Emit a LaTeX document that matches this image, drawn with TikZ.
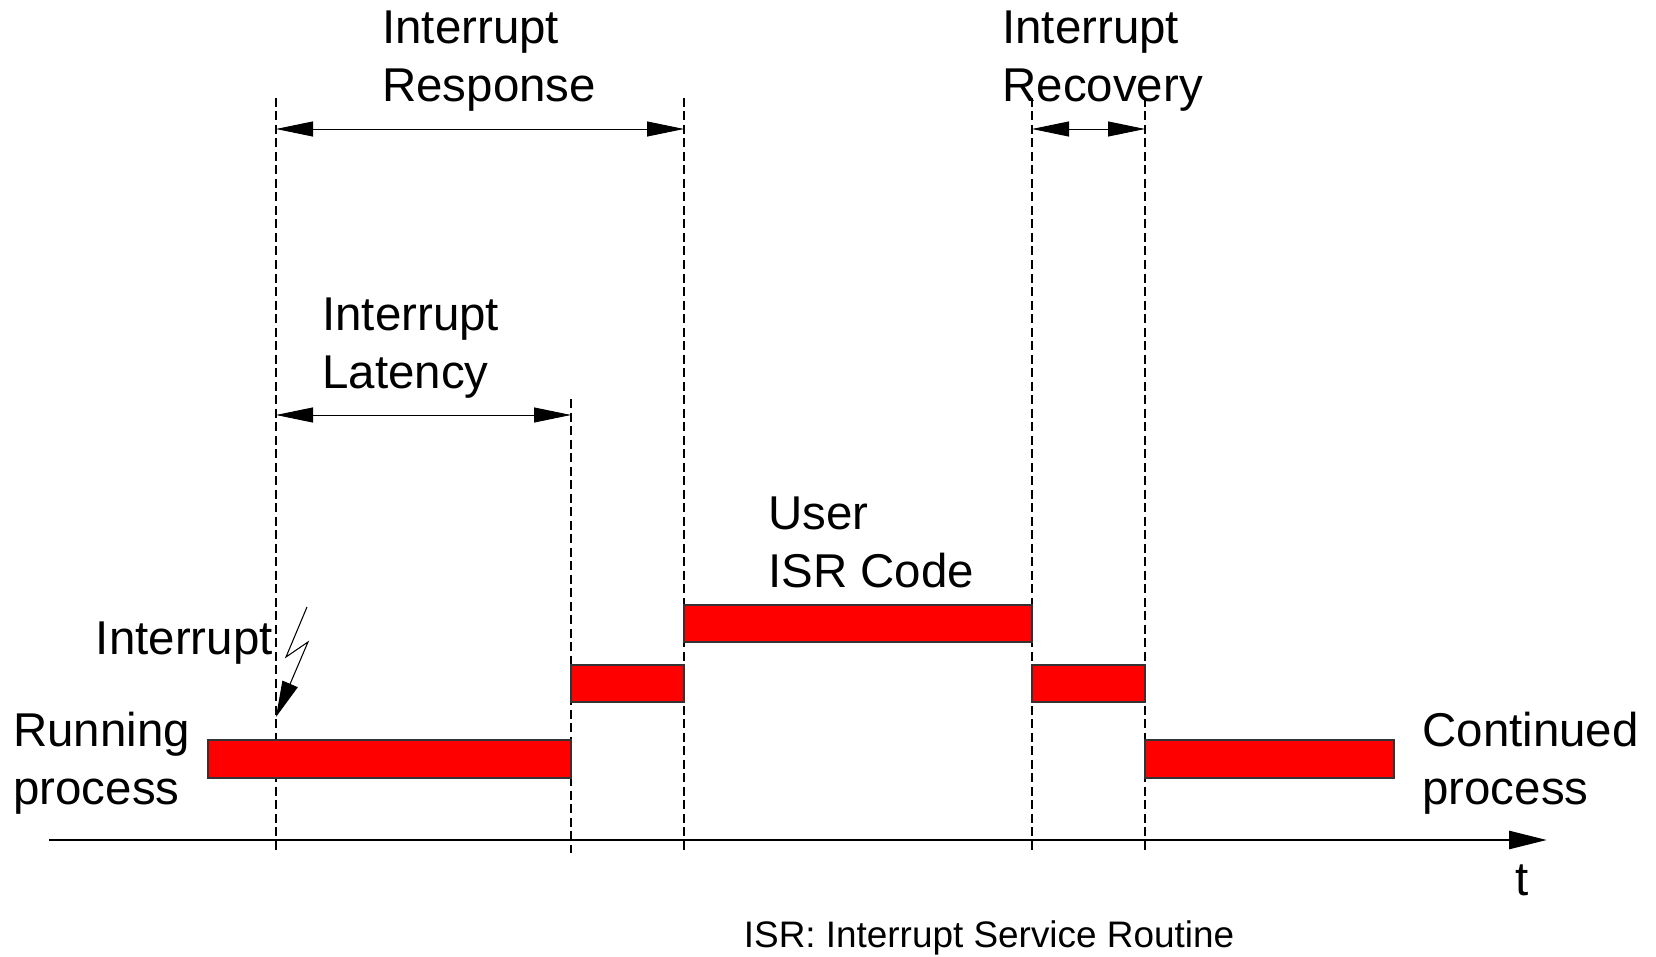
\documentclass[tikz,border=0pt]{standalone}
\usepackage{fontspec}
\setmainfont{Liberation Sans}
\usetikzlibrary{arrows.meta}

\tikzset{
  txt/.style={font=\fontsize{27}{33}\selectfont, align=left, inner sep=0pt},
  note/.style={font=\fontsize{21}{25}\selectfont, inner sep=0pt},
  timeline/.style={line width=1pt, dash pattern=on 1.8mm off 0.9mm},
  span/.style={line width=0.5pt, {Triangle[length=7.4mm,width=3mm]}-{Triangle[length=7.4mm,width=3mm]}},
  bar/.style={fill=red, draw=black!80, line width=0.6pt},
  axis/.style={line width=1.6pt, -{Triangle[length=7.6mm,width=3.6mm]}},
  bolt/.style={line width=0.6pt, -{Triangle[length=7.2mm,width=3.3mm]}},
}

\begin{document}
\begin{tikzpicture}[x=0.2mm,y=-0.2mm]
\useasboundingbox (0,0) rectangle (1656,957);

% time marks
\coordinate (base) at (0,853);
\coordinate (ta) at (276,98);
\coordinate (tb) at (571,399);
\coordinate (tc) at (684,98);
\coordinate (td) at (1032,98);
\coordinate (te) at (1145,98);
\foreach \t in {ta,tb,tc,td,te}
  \draw[timeline] (\t) -- (\t |- base);

% time axis
\coordinate (t0) at (49,840);
\coordinate (tend) at (1547,840);
\draw[axis] (t0) -- (tend);

% execution bars
\draw[bar] (208,740) rectangle (571,778);
\draw[bar] (571,665) rectangle (684,702);
\draw[bar] (684,605) rectangle (1032,642);
\draw[bar] (1032,665) rectangle (1145,702);
\draw[bar] (1145,740) rectangle (1394,778);

% spans
\coordinate (ry) at (0,129);
\coordinate (ly) at (0,415);
\draw[span] (ta |- ry) -- (tc |- ry);
\draw[span] (ta |- ly) -- (tb |- ly);
\draw[span] (td |- ry) -- (te |- ry);

% interrupt bolt
\coordinate (hit) at (276,717);
\draw[bolt] (307,607) -- (286,657) -- (308,642) -- (hit);

% labels
\node[txt, anchor=west] (resp) at (382,61) {Interrupt\\Response};
\node[txt, anchor=west] (lat) at (322,348) {Interrupt\\Latency};
\node[txt, anchor=west] (rec) at (1002,61) {Interrupt\\Recovery};
\node[txt, anchor=west] (isr) at (768,542) {User\\ISR Code};
\node[txt, anchor=east] (irq) at (273,643) {Interrupt};
\node[txt, anchor=west] (run) at (13,763) {Running\\process};
\node[txt, anchor=west] (cont) at (1422,763) {Continued\\process};
\node[txt] (t) at (1522,880) {t};
\node[note] (foot) at (989,938) {ISR: Interrupt Service Routine};

\end{tikzpicture}
\end{document}
